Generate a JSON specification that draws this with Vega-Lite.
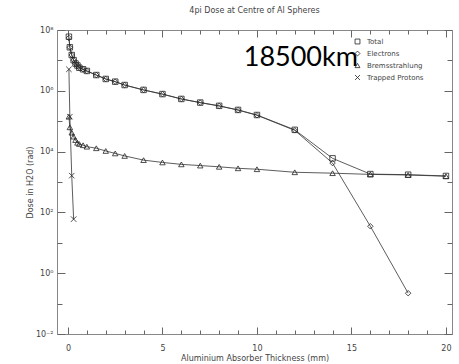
{
  "$schema": "https://vega.github.io/schema/vega-lite/v6.json",
  "autosize": "none",
  "width": 395,
  "height": 304,
  "padding": {"left": 57, "top": 30, "right": 7, "bottom": 30},
  "background": "white",
  "title": {"text": "4pi Dose at Centre of Al Spheres", "fontSize": 8, "font": "DejaVu Sans", "fontWeight": "normal", "color": "#444", "offset": 11, "anchor": "middle"},
  "config": {
    "view": {"stroke": "#888", "strokeWidth": 1},
    "axis": {"domain": false, "grid": false, "tickColor": "#666", "tickWidth": 1, "labelFont": "DejaVu Sans", "labelFontSize": 8, "labelColor": "#444", "titleFont": "DejaVu Sans", "titleFontSize": 8, "titleFontWeight": "normal", "titleColor": "#444"}
  },
  "datasets": {
    "dose": [
      {"series": "Total", "x": 0.05, "y": 6.0e7},
      {"series": "Total", "x": 0.1, "y": 2.7e7},
      {"series": "Total", "x": 0.2, "y": 1.5e7},
      {"series": "Total", "x": 0.3, "y": 1.02e7},
      {"series": "Total", "x": 0.4, "y": 7.9e6},
      {"series": "Total", "x": 0.5, "y": 6.8e6},
      {"series": "Total", "x": 0.6, "y": 5.75e6},
      {"series": "Total", "x": 0.8, "y": 5.1e6},
      {"series": "Total", "x": 1.0, "y": 4.5e6},
      {"series": "Total", "x": 1.5, "y": 3.3e6},
      {"series": "Total", "x": 2, "y": 2.45e6},
      {"series": "Total", "x": 2.5, "y": 2.0e6},
      {"series": "Total", "x": 3, "y": 1.55e6},
      {"series": "Total", "x": 4, "y": 1.07e6},
      {"series": "Total", "x": 5, "y": 7.8e5},
      {"series": "Total", "x": 6, "y": 5.4e5},
      {"series": "Total", "x": 7, "y": 4.1e5},
      {"series": "Total", "x": 8, "y": 3.2e5},
      {"series": "Total", "x": 9, "y": 2.35e5},
      {"series": "Total", "x": 10, "y": 1.6e5},
      {"series": "Total", "x": 12, "y": 5.2e4},
      {"series": "Total", "x": 14, "y": 6.0e3},
      {"series": "Total", "x": 16, "y": 1820},
      {"series": "Total", "x": 18, "y": 1740},
      {"series": "Total", "x": 20, "y": 1580},
      {"series": "Electrons", "x": 0.05, "y": 5.5e7},
      {"series": "Electrons", "x": 0.1, "y": 2.68e7},
      {"series": "Electrons", "x": 0.2, "y": 1.5e7},
      {"series": "Electrons", "x": 0.3, "y": 1.02e7},
      {"series": "Electrons", "x": 0.4, "y": 7.9e6},
      {"series": "Electrons", "x": 0.5, "y": 6.78e6},
      {"series": "Electrons", "x": 0.6, "y": 5.73e6},
      {"series": "Electrons", "x": 0.8, "y": 5.08e6},
      {"series": "Electrons", "x": 1.0, "y": 4.48e6},
      {"series": "Electrons", "x": 1.5, "y": 3.29e6},
      {"series": "Electrons", "x": 2, "y": 2.44e6},
      {"series": "Electrons", "x": 2.5, "y": 1.99e6},
      {"series": "Electrons", "x": 3, "y": 1.54e6},
      {"series": "Electrons", "x": 4, "y": 1.065e6},
      {"series": "Electrons", "x": 5, "y": 7.76e5},
      {"series": "Electrons", "x": 6, "y": 5.36e5},
      {"series": "Electrons", "x": 7, "y": 4.07e5},
      {"series": "Electrons", "x": 8, "y": 3.17e5},
      {"series": "Electrons", "x": 9, "y": 2.32e5},
      {"series": "Electrons", "x": 10, "y": 1.57e5},
      {"series": "Electrons", "x": 12, "y": 5.0e4},
      {"series": "Electrons", "x": 14, "y": 4200},
      {"series": "Electrons", "x": 16, "y": 35},
      {"series": "Electrons", "x": 18, "y": 0.22},
      {"series": "Bremsstrahlung", "x": 0.05, "y": 1.41e5},
      {"series": "Bremsstrahlung", "x": 0.1, "y": 6.3e4},
      {"series": "Bremsstrahlung", "x": 0.2, "y": 4.2e4},
      {"series": "Bremsstrahlung", "x": 0.3, "y": 3.1e4},
      {"series": "Bremsstrahlung", "x": 0.4, "y": 2.4e4},
      {"series": "Bremsstrahlung", "x": 0.5, "y": 1.95e4},
      {"series": "Bremsstrahlung", "x": 0.6, "y": 1.78e4},
      {"series": "Bremsstrahlung", "x": 0.8, "y": 1.62e4},
      {"series": "Bremsstrahlung", "x": 1.0, "y": 1.45e4},
      {"series": "Bremsstrahlung", "x": 1.5, "y": 1.29e4},
      {"series": "Bremsstrahlung", "x": 2, "y": 1.05e4},
      {"series": "Bremsstrahlung", "x": 2.5, "y": 8700},
      {"series": "Bremsstrahlung", "x": 3, "y": 7200},
      {"series": "Bremsstrahlung", "x": 4, "y": 5250},
      {"series": "Bremsstrahlung", "x": 5, "y": 4400},
      {"series": "Bremsstrahlung", "x": 6, "y": 3800},
      {"series": "Bremsstrahlung", "x": 7, "y": 3470},
      {"series": "Bremsstrahlung", "x": 8, "y": 3160},
      {"series": "Bremsstrahlung", "x": 9, "y": 2820},
      {"series": "Bremsstrahlung", "x": 10, "y": 2630},
      {"series": "Bremsstrahlung", "x": 12, "y": 2090},
      {"series": "Bremsstrahlung", "x": 14, "y": 1950},
      {"series": "Bremsstrahlung", "x": 16, "y": 1780},
      {"series": "Bremsstrahlung", "x": 18, "y": 1700},
      {"series": "Bremsstrahlung", "x": 20, "y": 1550},
      {"series": "Trapped Protons", "x": 0.05, "y": 5.1e6},
      {"series": "Trapped Protons", "x": 0.1, "y": 1.41e5},
      {"series": "Trapped Protons", "x": 0.2, "y": 1620},
      {"series": "Trapped Protons", "x": 0.3, "y": 60}
    ],
    "note": [
      {"label": "18500km", "x": 9.3, "y": 6.6e6}
    ]
  },
  "layer": [
    {
      "data": {"name": "dose"},
      "mark": {"type": "line", "color": "#333", "strokeWidth": 0.8},
      "encoding": {
        "x": {"field": "x", "type": "quantitative", "scale": {"domain": [-0.58, 20.32], "nice": false, "zero": false},
          "axis": {"orient": "bottom", "values": [0,5,10,15,20], "offset": -7, "tickSize": 7,
            "labelPadding": 10, "title": "Aluminium Absorber Thickness (mm)", "titlePadding": 2}},
        "y": {"field": "y", "type": "quantitative", "scale": {"type": "log", "domain": [0.01, 1e8], "nice": false},
          "axis": {"orient": "left", "values": [0.01,1,100,1e4,1e6,1e8], "offset": -8, "tickSize": 8,
            "labelExpr": "round(log(datum.value)/LN10) == 8 ? '10⁸' : round(log(datum.value)/LN10) == 6 ? '10⁶' : round(log(datum.value)/LN10) == 4 ? '10⁴' : round(log(datum.value)/LN10) == 2 ? '10²' : round(log(datum.value)/LN10) == 0 ? '10⁰' : '10⁻²'",
            "labelPadding": 4, "title": "Dose in H2O (rad)", "titlePadding": 1}},
        "detail": {"field": "series"}
      }
    },
    {
      "data": {"name": "dose"},
      "mark": {"type": "point", "filled": false, "stroke": "#222", "strokeWidth": 0.8, "opacity": 1, "size": 30},
      "encoding": {
        "x": {"field": "x", "type": "quantitative",
          "axis": {"orient": "top", "values": [0,5,10,15,20], "offset": -7, "tickSize": 7, "labels": false, "title": null}},
        "y": {"field": "y", "type": "quantitative",
          "axis": {"orient": "right", "values": [0.01,1,100,1e4,1e6,1e8], "offset": -8, "tickSize": 8, "labels": false, "title": null}},
        "shape": {"field": "series", "type": "nominal",
          "scale": {"domain": ["Total", "Electrons", "Bremsstrahlung", "Trapped Protons"],
            "range": ["square", "diamond", "triangle-up", "M -1 -1 L 1 1 M -1 1 L 1 -1"]},
          "legend": {"title": null, "orient": "none", "legendX": 297, "legendY": 8, "padding": 0, "labelFont": "DejaVu Sans", "labelFontSize": 7, "labelColor": "#444", "symbolStrokeColor": "#222", "symbolFillColor": "transparent", "symbolStrokeWidth": 0.8, "symbolSize": 24, "rowPadding": 3, "labelOffset": 6}}
      }
    },
    {
      "data": {"name": "dose"},
      "mark": {"type": "point", "opacity": 0},
      "encoding": {
        "x": {"field": "x", "type": "quantitative",
          "axis": {"orient": "bottom", "values": [1,2,3,4,6,7,8,9,11,12,13,14,16,17,18,19], "offset": -4, "tickSize": 4, "labels": false, "title": null}},
        "y": {"field": "y", "type": "quantitative",
          "axis": {"orient": "left", "values": [0.1,10,1000,1e5,1e7], "offset": -5, "tickSize": 5, "labels": false, "title": null}}
      }
    },
    {
      "data": {"name": "dose"},
      "mark": {"type": "point", "opacity": 0},
      "encoding": {
        "x": {"field": "x", "type": "quantitative",
          "axis": {"orient": "top", "values": [1,2,3,4,6,7,8,9,11,12,13,14,16,17,18,19], "offset": -4, "tickSize": 4, "labels": false, "title": null}},
        "y": {"field": "y", "type": "quantitative",
          "axis": {"orient": "right", "values": [0.1,10,1000,1e5,1e7], "offset": -5, "tickSize": 5, "labels": false, "title": null}}
      }
    },
    {
      "data": {"name": "note"},
      "mark": {"type": "text", "align": "left", "baseline": "alphabetic", "font": "Lato", "fontSize": 27, "color": "black"},
      "encoding": {
        "x": {"field": "x", "type": "quantitative", "axis": null},
        "y": {"field": "y", "type": "quantitative", "axis": null},
        "text": {"field": "label"}
      }
    }
  ],
  "resolve": {"axis": {"x": "independent", "y": "independent"}}
}
